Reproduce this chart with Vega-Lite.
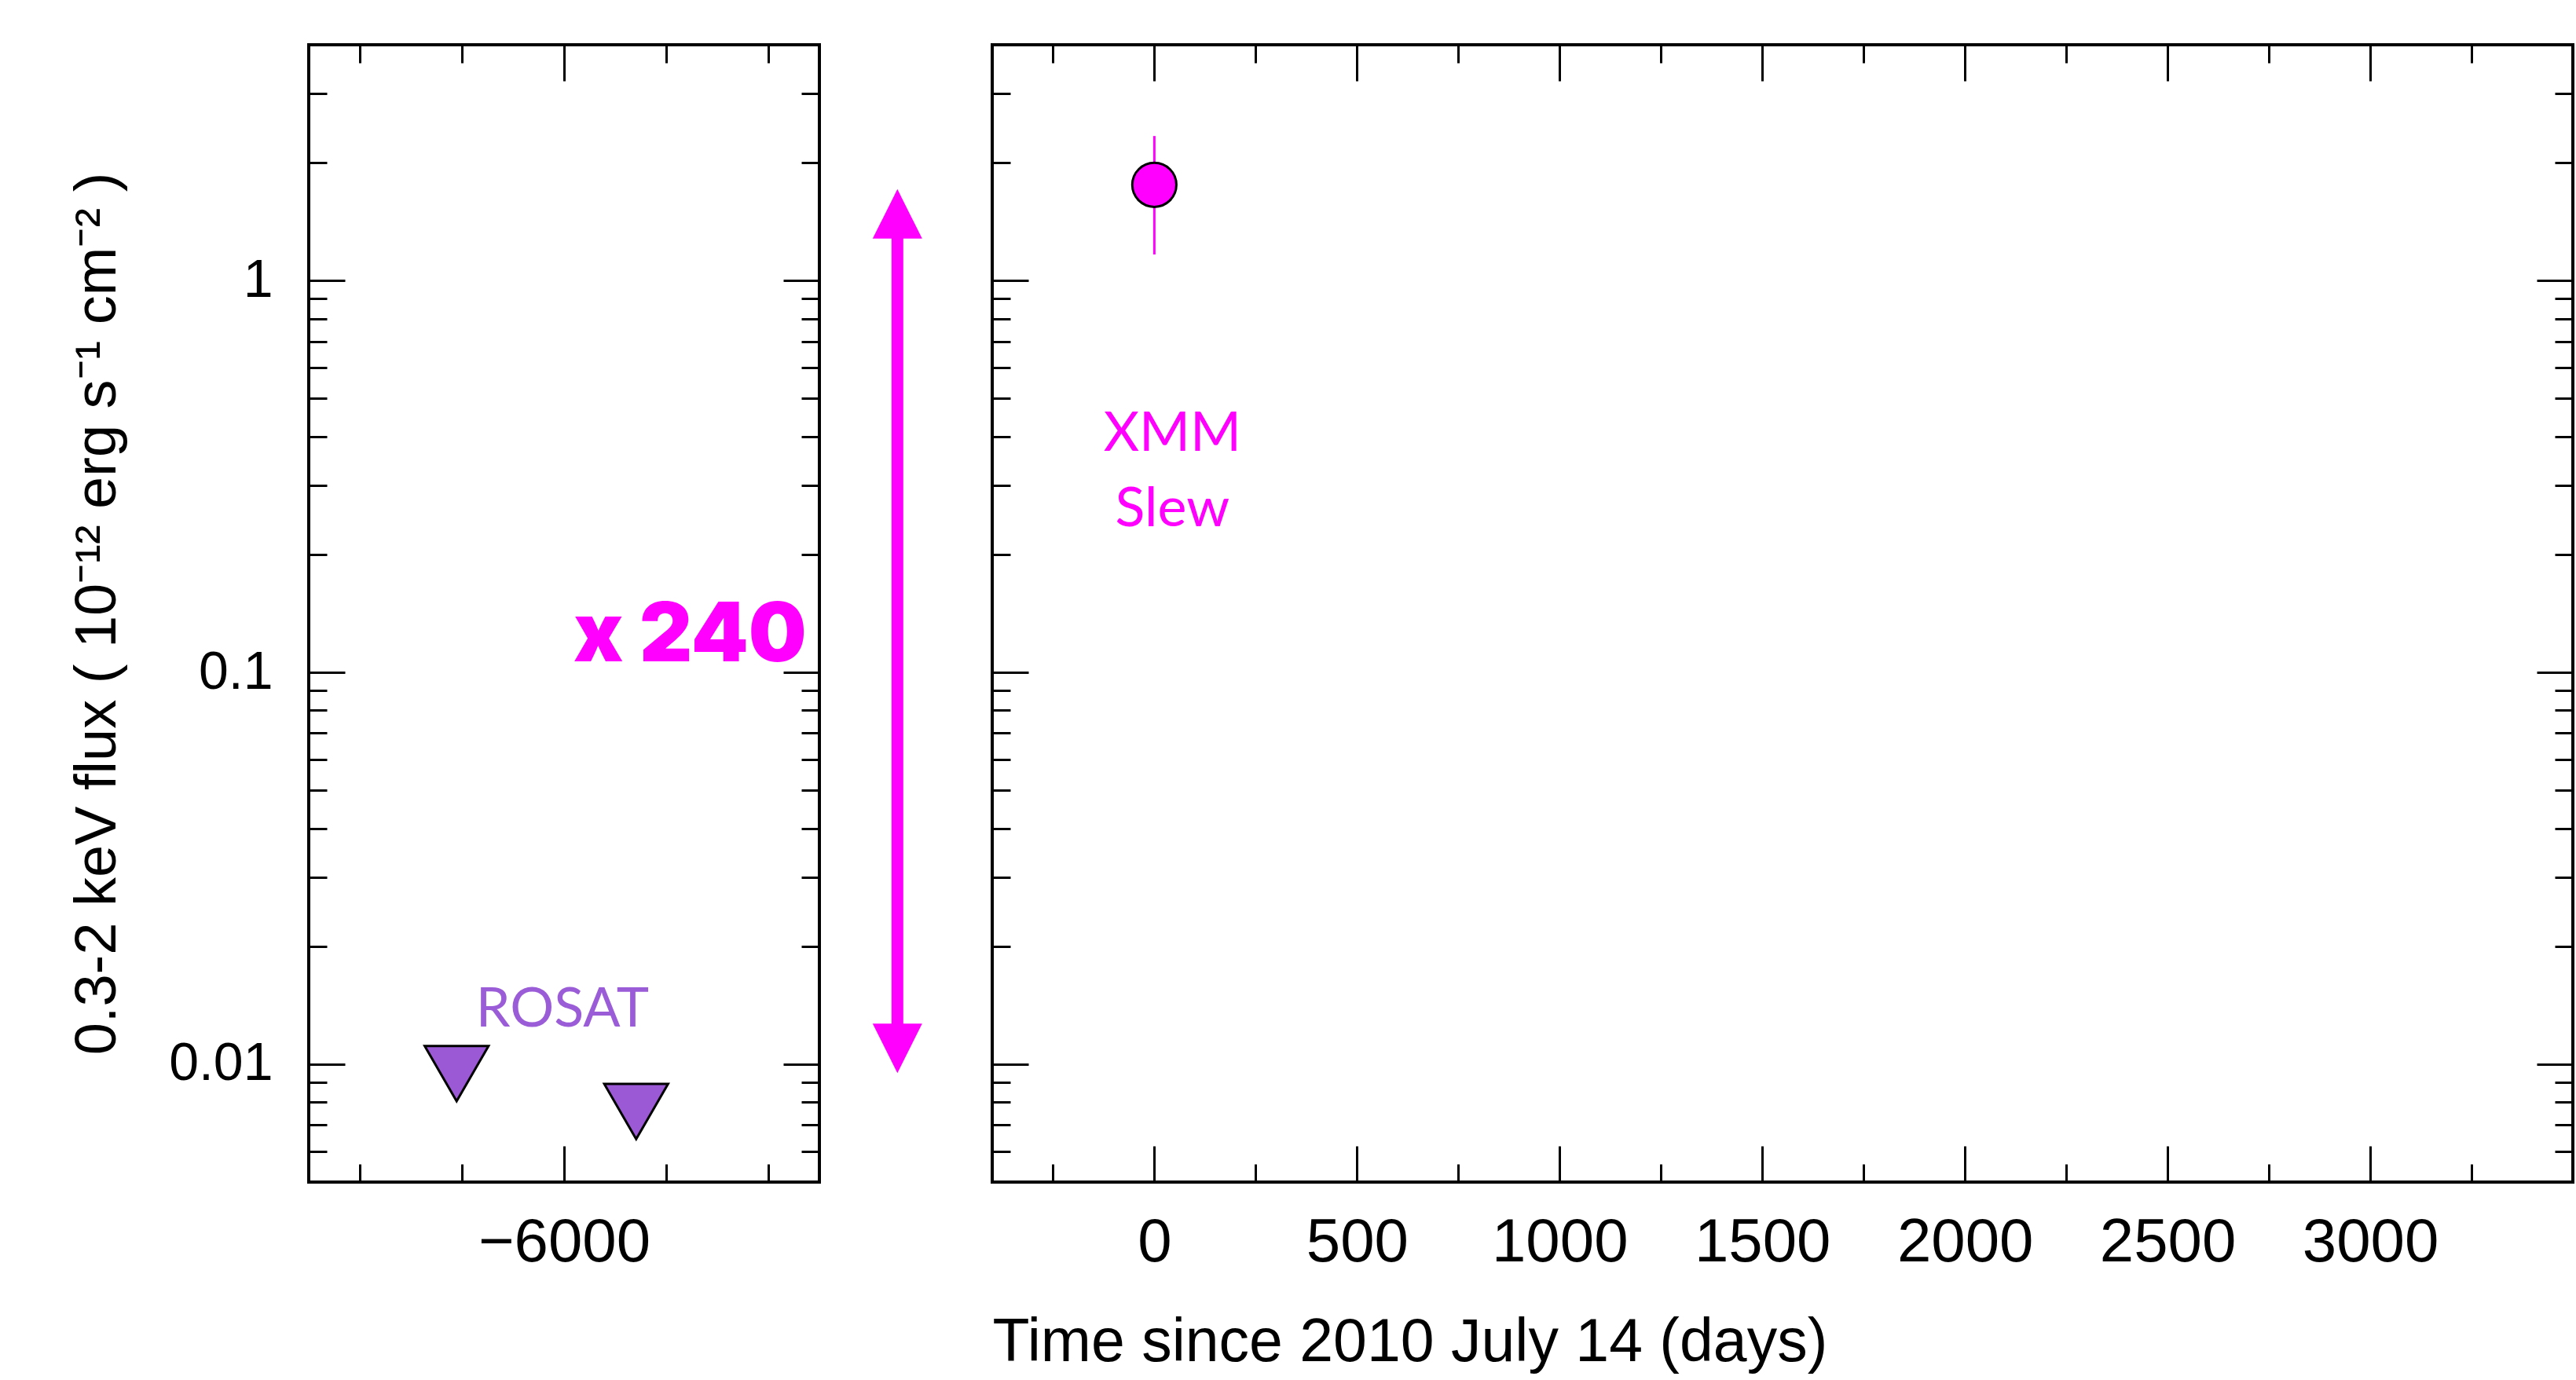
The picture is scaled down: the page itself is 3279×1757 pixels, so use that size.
{
  "$schema": "https://vega.github.io/schema/vega-lite/v6.json",
  "background": "white",
  "padding": {"left": 85, "top": 53, "right": 0, "bottom": 0},
  "bounds": "flush",
  "spacing": 220,
  "datasets": {
    "rosat": [{"t": -6526, "flux": 0.00946}, {"t": -5647, "flux": 0.00757}],
    "xmm": [{"t": 0, "flux": 1.756, "lo": 1.166, "hi": 2.34}],
    "arrow": [{"t": -4368, "from": 0.01097, "to": 1.48}],
    "rosat_label": [{"t": -6008, "flux": 0.0125, "label": "ROSAT"}],
    "factor_label": [{"t": -4813, "flux": 0.1067, "label": "x 240"}],
    "xmm_label": [{"t": 44.6, "flux": 0.367, "label": "XMM\nSlew"}]
  },
  "hconcat": [
    {
      "width": 650,
      "height": 1448,
      "resolve": {"axis": {"x": "independent", "y": "independent"}},
      "layer": [
        {
          "data": {"name": "rosat"},
          "mark": {"type": "point", "opacity": 0},
          "encoding": {
            "x": {"field": "t", "type": "quantitative", "scale": {"domain": [-7250, -4750], "nice": false, "zero": false},
                  "axis": {"orient": "top", "values": [-6000], "tickSize": -46, "labels": false, "title": null}},
            "y": {"field": "flux", "type": "quantitative", "scale": {"type": "log", "domain": [0.005, 4], "nice": false},
                  "axis": {"orient": "right", "values": [0.01, 0.1, 1], "tickSize": -46, "labels": false, "title": null}}
          }
        },
        {
          "data": {"name": "rosat"},
          "mark": {"type": "point", "opacity": 0},
          "encoding": {
            "x": {"field": "t", "type": "quantitative", "scale": {"domain": [-7250, -4750], "nice": false, "zero": false},
                  "axis": {"orient": "top", "values": [-7000, -6500, -5500, -5000], "tickSize": -23, "labels": false, "title": null}},
            "y": {"field": "flux", "type": "quantitative", "scale": {"type": "log", "domain": [0.005, 4], "nice": false},
                  "axis": {"orient": "right", "values": [0.006, 0.007, 0.008, 0.009, 0.02, 0.03, 0.04, 0.05, 0.06, 0.07, 0.08, 0.09, 0.2, 0.3, 0.4, 0.5, 0.6, 0.7, 0.8, 0.9, 2, 3], "tickSize": -23, "labels": false, "title": null}}
          }
        },
        {
          "data": {"name": "rosat"},
          "mark": {"type": "point", "opacity": 0},
          "encoding": {
            "x": {"field": "t", "type": "quantitative", "scale": {"domain": [-7250, -4750], "nice": false, "zero": false},
                  "axis": {"orient": "bottom", "values": [-7000, -6500, -5500, -5000], "tickSize": -23, "labels": false, "title": null}},
            "y": {"field": "flux", "type": "quantitative", "scale": {"type": "log", "domain": [0.005, 4], "nice": false},
                  "axis": {"orient": "left", "values": [0.006, 0.007, 0.008, 0.009, 0.02, 0.03, 0.04, 0.05, 0.06, 0.07, 0.08, 0.09, 0.2, 0.3, 0.4, 0.5, 0.6, 0.7, 0.8, 0.9, 2, 3], "tickSize": -23, "labels": false, "title": null}}
          }
        },
        {
          "data": {"name": "arrow"},
          "mark": {"type": "rule", "color": "#FF00FF", "strokeWidth": 15},
          "encoding": {
            "x": {"field": "t", "type": "quantitative", "scale": {"domain": [-7250, -4750], "nice": false, "zero": false}, "axis": null},
            "y": {"field": "from", "type": "quantitative", "scale": {"type": "log", "domain": [0.005, 4], "nice": false}, "axis": null},
            "y2": {"field": "to"}
          }
        },
        {
          "data": {"name": "arrow"},
          "mark": {"type": "point", "shape": "M0,-1L1,1L-1,1Z", "filled": true, "fill": "#FF00FF", "strokeWidth": 0, "size": 3969, "opacity": 1},
          "encoding": {
            "x": {"field": "t", "type": "quantitative", "scale": {"domain": [-7250, -4750], "nice": false, "zero": false}, "axis": null},
            "y": {"field": "to", "type": "quantitative", "scale": {"type": "log", "domain": [0.005, 4], "nice": false}, "axis": null}
          }
        },
        {
          "data": {"name": "arrow"},
          "mark": {"type": "point", "shape": "M0,1L1,-1L-1,-1Z", "filled": true, "fill": "#FF00FF", "strokeWidth": 0, "size": 3969, "opacity": 1},
          "encoding": {
            "x": {"field": "t", "type": "quantitative", "scale": {"domain": [-7250, -4750], "nice": false, "zero": false}, "axis": null},
            "y": {"field": "from", "type": "quantitative", "scale": {"type": "log", "domain": [0.005, 4], "nice": false}, "axis": null}
          }
        },
        {
          "data": {"name": "rosat_label"},
          "mark": {"type": "text", "font": "Lato", "fontSize": 70, "color": "#9B5CD8", "align": "center", "baseline": "alphabetic"},
          "encoding": {
            "x": {"field": "t", "type": "quantitative", "scale": {"domain": [-7250, -4750], "nice": false, "zero": false}, "axis": null},
            "y": {"field": "flux", "type": "quantitative", "scale": {"type": "log", "domain": [0.005, 4], "nice": false}, "axis": null},
            "text": {"field": "label"}
          }
        },
        {
          "data": {"name": "factor_label"},
          "mark": {"type": "text", "font": "Inter", "fontWeight": 900, "fontSize": 104, "color": "#FF00FF", "align": "right", "baseline": "alphabetic"},
          "encoding": {
            "x": {"field": "t", "type": "quantitative", "scale": {"domain": [-7250, -4750], "nice": false, "zero": false}, "axis": null},
            "y": {"field": "flux", "type": "quantitative", "scale": {"type": "log", "domain": [0.005, 4], "nice": false}, "axis": null},
            "text": {"field": "label"}
          }
        },
        {
          "data": {"name": "rosat"},
          "mark": {"type": "point", "shape": "triangle-down", "filled": true, "fill": "#9B59D6", "stroke": "black", "strokeWidth": 3, "size": 6600, "opacity": 1},
          "encoding": {
            "x": {"field": "t", "type": "quantitative", "scale": {"domain": [-7250, -4750], "nice": false, "zero": false},
                  "axis": {"orient": "bottom", "values": [-6000], "format": "d", "tickSize": -46, "labelFontSize": 78, "labelPadding": 84, "labelLimit": 0, "title": null}},
            "y": {"field": "flux", "type": "quantitative", "scale": {"type": "log", "domain": [0.005, 4], "nice": false},
                  "axis": {"orient": "left", "values": [0.01, 0.1, 1], "tickSize": -46, "labelFontSize": 68, "labelPadding": 92, "labelLimit": 0,
                           "labelExpr": "datum.value == 1 ? '1' : (datum.value == 0.1 ? '0.1' : '0.01')",
                           "title": "0.3-2 keV flux ( 10⁻¹² erg s⁻¹ cm⁻² )", "titleFontSize": 74, "titlePadding": 52, "titleLimit": 0}}
          }
        }
      ]
    },
    {
      "width": 2012,
      "height": 1448,
      "resolve": {"axis": {"x": "independent", "y": "independent"}},
      "layer": [
        {
          "data": {"name": "xmm"},
          "mark": {"type": "point", "opacity": 0},
          "encoding": {
            "x": {"field": "t", "type": "quantitative", "scale": {"domain": [-400, 3500], "nice": false, "zero": false},
                  "axis": {"orient": "top", "values": [0, 500, 1000, 1500, 2000, 2500, 3000], "tickSize": -46, "labels": false, "title": null}},
            "y": {"field": "flux", "type": "quantitative", "scale": {"type": "log", "domain": [0.005, 4], "nice": false},
                  "axis": {"orient": "right", "values": [0.01, 0.1, 1], "tickSize": -46, "labels": false, "title": null}}
          }
        },
        {
          "data": {"name": "xmm"},
          "mark": {"type": "point", "opacity": 0},
          "encoding": {
            "x": {"field": "t", "type": "quantitative", "scale": {"domain": [-400, 3500], "nice": false, "zero": false},
                  "axis": {"orient": "top", "values": [-250, 250, 750, 1250, 1750, 2250, 2750, 3250], "tickSize": -23, "labels": false, "title": null}},
            "y": {"field": "flux", "type": "quantitative", "scale": {"type": "log", "domain": [0.005, 4], "nice": false},
                  "axis": {"orient": "right", "values": [0.006, 0.007, 0.008, 0.009, 0.02, 0.03, 0.04, 0.05, 0.06, 0.07, 0.08, 0.09, 0.2, 0.3, 0.4, 0.5, 0.6, 0.7, 0.8, 0.9, 2, 3], "tickSize": -23, "labels": false, "title": null}}
          }
        },
        {
          "data": {"name": "xmm"},
          "mark": {"type": "point", "opacity": 0},
          "encoding": {
            "x": {"field": "t", "type": "quantitative", "scale": {"domain": [-400, 3500], "nice": false, "zero": false},
                  "axis": {"orient": "bottom", "values": [-250, 250, 750, 1250, 1750, 2250, 2750, 3250], "tickSize": -23, "labels": false, "title": null}},
            "y": {"field": "flux", "type": "quantitative", "scale": {"type": "log", "domain": [0.005, 4], "nice": false},
                  "axis": {"orient": "left", "values": [0.006, 0.007, 0.008, 0.009, 0.02, 0.03, 0.04, 0.05, 0.06, 0.07, 0.08, 0.09, 0.2, 0.3, 0.4, 0.5, 0.6, 0.7, 0.8, 0.9, 2, 3], "tickSize": -23, "labels": false, "title": null}}
          }
        },
        {
          "data": {"name": "xmm"},
          "mark": {"type": "point", "opacity": 0},
          "encoding": {
            "x": {"field": "t", "type": "quantitative", "scale": {"domain": [-400, 3500], "nice": false, "zero": false},
                  "axis": {"orient": "bottom", "values": [0, 500, 1000, 1500, 2000, 2500, 3000], "format": "d", "tickSize": -46, "labelFontSize": 78, "labelPadding": 84, "labelLimit": 0,
                           "title": "Time since 2010 July 14 (days)", "titleFontSize": 77, "titleAnchor": "start", "titlePadding": 50, "titleLimit": 0}},
            "y": {"field": "flux", "type": "quantitative", "scale": {"type": "log", "domain": [0.005, 4], "nice": false},
                  "axis": {"orient": "left", "values": [0.01, 0.1, 1], "tickSize": -46, "labels": false, "title": null}}
          }
        },
        {
          "data": {"name": "xmm"},
          "mark": {"type": "rule", "color": "#FF00FF", "strokeWidth": 3},
          "encoding": {
            "x": {"field": "t", "type": "quantitative", "scale": {"domain": [-400, 3500], "nice": false, "zero": false}, "axis": null},
            "y": {"field": "lo", "type": "quantitative", "scale": {"type": "log", "domain": [0.005, 4], "nice": false}, "axis": null},
            "y2": {"field": "hi"}
          }
        },
        {
          "data": {"name": "xmm"},
          "mark": {"type": "point", "shape": "circle", "filled": true, "fill": "#FF00FF", "stroke": "black", "strokeWidth": 3, "size": 3150, "opacity": 1},
          "encoding": {
            "x": {"field": "t", "type": "quantitative", "scale": {"domain": [-400, 3500], "nice": false, "zero": false}, "axis": null},
            "y": {"field": "flux", "type": "quantitative", "scale": {"type": "log", "domain": [0.005, 4], "nice": false}, "axis": null}
          }
        },
        {
          "data": {"name": "xmm_label"},
          "mark": {"type": "text", "font": "Lato", "fontSize": 70, "color": "#FF00FF", "align": "center", "baseline": "alphabetic", "lineBreak": "\n", "lineHeight": 96},
          "encoding": {
            "x": {"field": "t", "type": "quantitative", "scale": {"domain": [-400, 3500], "nice": false, "zero": false}, "axis": null},
            "y": {"field": "flux", "type": "quantitative", "scale": {"type": "log", "domain": [0.005, 4], "nice": false}, "axis": null},
            "text": {"field": "label"}
          }
        }
      ]
    }
  ],
  "config": {
    "view": {"stroke": "black", "strokeWidth": 4, "fill": "white"},
    "axis": {
      "domain": false,
      "grid": false,
      "tickColor": "black",
      "tickWidth": 3,
      "labelColor": "black",
      "labelFont": "Liberation Sans",
      "titleFont": "Liberation Sans",
      "titleFontWeight": "normal",
      "titleColor": "black",
      "labelFlush": false,
      "labelOverlap": false,
      "labelBound": false
    }
  }
}
